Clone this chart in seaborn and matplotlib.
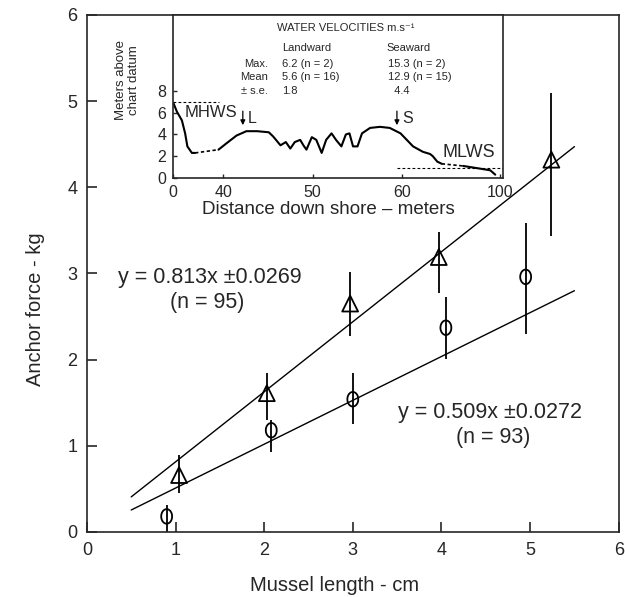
import numpy as np
import matplotlib
matplotlib.use("Agg")
import matplotlib.pyplot as plt
from matplotlib.path import Path
import seaborn as sns

# Main plot: anchor force vs mussel length
tri_len = [1.04, 2.03, 2.97, 3.97, 5.24]
tri_force = [0.66, 1.61, 2.65, 3.19, 4.32]
tri_lo = [0.45, 1.30, 2.27, 2.77, 3.43]
tri_hi = [0.89, 1.84, 3.02, 3.48, 5.09]

circ_len = [0.90, 2.08, 3.00, 4.05, 4.95]
circ_force = [0.18, 1.18, 1.54, 2.37, 2.96]
circ_lo = [0.0, 0.93, 1.25, 2.01, 2.30]
circ_hi = [0.31, 1.30, 1.84, 2.73, 3.59]

# fitted lines y = b*x
slopes = [0.813, 0.509]
fit_x = [0.5, 5.5]
eq_text = ["y = 0.813x \u00b10.0269", "y = 0.509x \u00b10.0272"]
n_text = ["(n = 95)", "(n = 93)"]

# Inset: shore profile (distance down shore m, height above chart datum m)
upper_d = [0.2, 3.0, 7.0, 9.6, 11.4, 15.0, 17.6]
upper_h = [6.9, 6.1, 5.3, 4.1, 2.9, 2.3, 2.3]
mid_d = [36.3, 40.4, 41.5, 42.6, 43.8, 45.1, 45.6, 46.4, 47.0, 47.5, 48.0, 48.6,
         49.0, 49.3, 49.9, 50.4, 51.0, 51.5, 52.1, 52.6, 53.2, 53.7, 54.1, 54.5,
         55.0, 55.5, 56.4, 57.5, 58.6, 59.8, 60.5, 61.2, 62.3, 63.1, 63.4, 63.9, 64.4]
mid_h = [2.6, 3.2, 3.9, 4.3, 4.3, 4.2, 3.8, 3.0, 3.3, 2.7, 3.3, 3.5,
         2.95, 2.6, 3.75, 3.5, 2.3, 3.5, 4.1, 3.5, 2.9, 4.0, 4.1, 2.9,
         2.9, 4.1, 4.6, 4.7, 4.6, 4.1, 3.5, 2.9, 2.4, 2.2, 2.0, 1.5, 1.3]
low_d = [75.6, 84.7, 93.5, 96.8]
low_h = [1.1, 0.9, 0.7, 0.3]

tide_names = ["MHWS", "MLWS"]
tide_h = [7.0, 0.95]
tide_from = [0, 59.4]
tide_to = [37, 102]

site_names = ["L", "S"]
site_d = [42.2, 59.4]

vel_rows = ["Max.", "Mean", "\u00b1 s.e."]
landward = ["6.2 (n = 2)", "5.6 (n = 16)", "1.8"]
seaward = ["15.3 (n = 2)", "12.9 (n = 15)", "  4.4"]

sns.set_style("ticks")
plt.rcParams["font.family"] = ["Liberation Sans", "DejaVu Sans"]
plt.rcParams["axes.linewidth"] = 1.2

fig = plt.figure(figsize=(6.25, 5.97), dpi=100)
ax = fig.add_axes([0.139, 0.109, 0.851, 0.866])

for b in slopes:
    sns.lineplot(x=fit_x, y=[b * v for v in fit_x], color="black", lw=1.0, ax=ax)

ax.vlines(tri_len, tri_lo, tri_hi, color="black", lw=1.3)
ax.vlines(circ_len, circ_lo, circ_hi, color="black", lw=1.3)

t = np.linspace(0, 2 * np.pi, 40)
oval = Path(np.column_stack([0.75 * np.cos(t), np.sin(t)]))
sns.scatterplot(x=tri_len, y=tri_force, marker="^", s=130, facecolors="none",
                edgecolor="black", linewidth=1.3, ax=ax, zorder=3)
sns.scatterplot(x=circ_len, y=circ_force, marker=oval, s=110, facecolors="none",
                edgecolor="black", linewidth=1.3, ax=ax, zorder=3)

ax.text(0.35, 2.95, eq_text[0], fontsize=15.5, va="center", ha="left")
ax.text(1.36, 2.66, n_text[0], fontsize=15.5, va="center", ha="center")
ax.text(3.51, 1.39, eq_text[1], fontsize=15.5, va="center", ha="left")
ax.text(4.58, 1.10, n_text[1], fontsize=15.5, va="center", ha="center")

ax.set_xlim(0, 6)
ax.set_ylim(0, 6)
ax.set_xticks(range(7))
ax.set_yticks(range(7))
ax.tick_params(direction="in", length=7, width=1.2, labelsize=13, pad=7)
ax.set_xlabel("Mussel length - cm", fontsize=14.5)
ax.set_ylabel("Anchor force - kg", fontsize=14.5)
ax.xaxis.set_label_coords(0.466, -0.085)
ax.yaxis.set_label_coords(-0.078, 0.43)

# Inset with broken distance axis
ins = fig.add_axes([0.277, 0.702, 0.528, 0.273])
dist_breaks = [-100, 0, 40, 65, 100, 200]
axis_breaks = [-150, 0, 50, 274, 327, 478]
ins.set_xscale("function", functions=(lambda d: np.interp(d, dist_breaks, axis_breaks),
                                      lambda p: np.interp(p, axis_breaks, dist_breaks)))

for d, h in [(upper_d, upper_h), (mid_d, mid_h), (low_d, low_h)]:
    sns.lineplot(x=d, y=h, sort=False, estimator=None, color="black", lw=1.5, ax=ins)
ins.plot([upper_d[-1], mid_d[0]], [upper_h[-1], mid_h[0]], color="black", lw=1.2, ls=(0, (2, 1.5)))
ins.plot([mid_d[-1], low_d[0]], [mid_h[-1], low_h[0]], color="black", lw=1.2, ls=(0, (2, 1.5)))
for name, h, a, b in zip(tide_names, tide_h, tide_from, tide_to):
    ins.plot([a, b], [h, h], color="black", lw=0.8, ls=(0, (2.5, 2)))
ins.text(9.0, 6.0, tide_names[0], fontsize=12, va="center", ha="left")
ins.text(64.5, 2.3, tide_names[1], fontsize=13, va="center", ha="left")

for name, d in zip(site_names, site_d):
    ins.annotate("", xy=(d, 4.6), xytext=(d, 6.4),
                 arrowprops=dict(arrowstyle="-|>", color="black", lw=0.9, mutation_scale=7))
    ins.text(d + 0.6, 5.45, name, fontsize=11.5, va="center", ha="left")

ins.text(0.524, 0.92, "WATER VELOCITIES m.s\u207b\u00b9", transform=ins.transAxes,
         fontsize=8, ha="center", va="center")
ins.text(0.33, 0.80, "Landward", transform=ins.transAxes, fontsize=8, ha="left", va="center")
ins.text(0.648, 0.80, "Seaward", transform=ins.transAxes, fontsize=8, ha="left", va="center")
for i, (r, lv, sv) in enumerate(zip(vel_rows, landward, seaward)):
    y = 0.70 - i * 0.082
    ins.text(0.288, y, r, transform=ins.transAxes, fontsize=8, ha="right", va="center")
    ins.text(0.33, y, lv, transform=ins.transAxes, fontsize=8, ha="left", va="center")
    ins.text(0.652, y, sv, transform=ins.transAxes, fontsize=8, ha="left", va="center")

ins.set_xlim(0, 102)
ins.set_ylim(0, 15)
ins.set_xticks([0, 40, 50, 60, 100])
ins.set_xticklabels(["0", "40", "50", "60", "100"])
ins.set_yticks([0, 2, 4, 6, 8])
ins.tick_params(direction="in", length=3, width=1.0, labelsize=11.5, pad=5)
ins.set_xlabel("Distance down shore \u2013 meters", fontsize=13.5, labelpad=2)
ins.xaxis.set_label_coords(0.47, -0.14)
ins.set_ylabel("Meters above\nchart datum", fontsize=9.5, linespacing=1.1)
ins.yaxis.set_label_coords(-0.10, 0.6)

fig.savefig("out.png", dpi=100)
